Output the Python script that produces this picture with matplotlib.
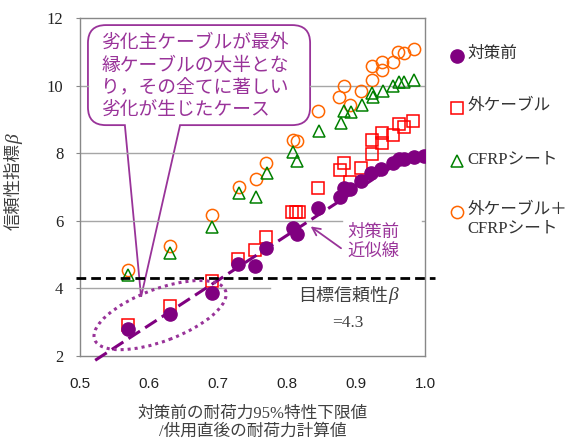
import numpy as np
import matplotlib.pyplot as plt
from matplotlib.patches import Ellipse, PathPatch
from matplotlib.path import Path
from matplotlib.lines import Line2D

plt.rcParams['font.family'] = ['Liberation Serif', 'Noto Sans CJK JP']

# 対策前 (before strengthening)
x_before = [0.569, 0.630, 0.692, 0.729, 0.754, 0.769, 0.808, 0.815, 0.845, 0.877,
            0.882, 0.892, 0.907, 0.922, 0.936, 0.953, 0.963, 0.970, 0.984, 0.999]
b_before = [2.79, 3.24, 3.85, 4.71, 4.66, 5.19, 5.78, 5.61, 6.37, 6.69,
            6.96, 6.93, 7.18, 7.42, 7.52, 7.70, 7.82, 7.82, 7.88, 7.92]

# 外ケーブル
x_cable = [0.569, 0.630, 0.692, 0.729, 0.754, 0.769, 0.807, 0.813, 0.818, 0.845, 0.877,
           0.883, 0.891, 0.907, 0.923, 0.923, 0.937, 0.937, 0.953, 0.963, 0.970, 0.983]
b_cable = [2.92, 3.49, 4.23, 4.86, 5.14, 5.51, 6.27, 6.27, 6.27, 6.96, 7.50,
           7.72, 7.16, 7.57, 7.98, 8.39, 8.29, 8.59, 8.54, 8.86, 8.78, 8.95]

# CFRPシート
x_cfrp = [0.570, 0.631, 0.692, 0.730, 0.755, 0.771, 0.808, 0.815, 0.846, 0.878,
          0.883, 0.893, 0.908, 0.923, 0.924, 0.939, 0.954, 0.962, 0.970, 0.984]
b_cfrp = [4.40, 5.04, 5.81, 6.81, 6.71, 7.40, 8.04, 7.78, 8.66, 8.90,
          9.25, 9.23, 9.44, 9.79, 9.67, 9.84, 9.99, 10.12, 10.12, 10.17]

# 外ケーブル＋CFRPシート
x_both = [0.570, 0.631, 0.692, 0.730, 0.755, 0.770, 0.808, 0.814, 0.845, 0.876,
          0.883, 0.892, 0.907, 0.923, 0.923, 0.937, 0.937, 0.953, 0.961, 0.969, 0.984]
b_both = [4.54, 5.25, 6.17, 7.01, 7.23, 7.70, 8.39, 8.36, 9.25, 9.65,
          9.99, 9.44, 9.84, 10.18, 10.58, 10.46, 10.71, 10.71, 10.98, 10.95, 11.07]

# approximate line for 対策前, and target reliability
fit_slope, fit_intercept = 13.3, -5.07
fit_range = [0.522, 0.960]
beta_target = 4.3

purple = '#800080'
note = '#993399'

fig = plt.figure(figsize=(5.74, 4.43), dpi=100)
ax = fig.add_axes([0.1394, 0.1964, 0.601, 0.763])
ax.set_xlim(0.5, 1.0)
ax.set_ylim(2, 12)

# grid segments (gaps where the notes sit)
grid_kw = dict(color='#a6a6a6', lw=1, zorder=1.6)
ax.axhline(4, 0, 0.551, **grid_kw)
ax.axhline(6, 0, 0.759, **grid_kw)
ax.axhline(6, 0.991, 1, **grid_kw)
ax.axhline(8, 0, 1, **grid_kw)
ax.axhline(10, 0, 0.023, **grid_kw)
ax.axhline(10, 0.667, 1, **grid_kw)

ax.plot(x_both, b_both, 'o', ms=8.8, mfc='none', mec='#ff6600', mew=1.1, zorder=3)
ax.plot(x_cfrp, b_cfrp, '^', ms=9, mfc='none', mec='#008000', mew=1.1, zorder=3)
ax.plot(x_cable, b_cable, 's', ms=8.2, mfc='none', mec='#ff0000', mew=1.1, zorder=3)
ax.plot(x_before, b_before, 'o', ms=9.5, color=purple, zorder=4)

fx = np.array(fit_range)
ax.plot(fx, fit_intercept + fit_slope * fx, color=purple, lw=2.2,
        dashes=(4.5, 2), clip_on=False, zorder=5)

ax.axhline(beta_target, -0.012, 1.029, color='black', lw=2, dashes=(3.5, 1.8),
           clip_on=False, zorder=5)

# callout box with pointer
bx0, bx1, by0, by1 = 0.023, 0.667, 0.683, 0.979
rx, ry = 0.052, 0.053
pl, pr = 0.130, 0.290
tip = (0.177, 0.175)
verts = [(bx0 + rx, by1), (bx1 - rx, by1), (bx1, by1), (bx1, by1 - ry),
         (bx1, by0 + ry), (bx1, by0), (bx1 - rx, by0),
         (pr, by0), tip, (pl, by0),
         (bx0 + rx, by0), (bx0, by0), (bx0, by0 + ry),
         (bx0, by1 - ry), (bx0, by1), (bx0 + rx, by1), (0, 0)]
codes = [Path.MOVETO, Path.LINETO, Path.CURVE3, Path.CURVE3,
         Path.LINETO, Path.CURVE3, Path.CURVE3,
         Path.LINETO, Path.LINETO, Path.LINETO,
         Path.LINETO, Path.CURVE3, Path.CURVE3,
         Path.LINETO, Path.CURVE3, Path.CURVE3, Path.CLOSEPOLY]
ax.add_patch(PathPatch(Path(verts, codes), fc='white', ec=note, lw=1.3,
                       transform=ax.transAxes, zorder=1.5))
ax.text(0.061, 0.952, '劣化主ケーブルが最外\n縁ケーブルの大半とな\nり，その全てに著しい\n劣化が生じたケース',
        transform=ax.transAxes, ha='left', va='top', fontsize=13.5, color=note,
        linespacing=1.36, zorder=6)

ax.add_patch(Ellipse((0.232, 0.121), 0.406, 0.154, angle=21, transform=ax.transAxes,
                     fill=False, ec=note, lw=2.2, ls=(0, (1, 1.3)), clip_on=False, zorder=6))

ax.text(0.887, 5.36, '対策前\n近似線', ha='left', va='center', fontsize=12.5,
        color=note, linespacing=1.2, zorder=6)
ax.annotate('', xy=(0.831, 5.88), xytext=(0.8816, 5.14),
            arrowprops=dict(arrowstyle='->', color=note, lw=1.3, mutation_scale=14))

t = ax.text(0.816, 3.75, '目標信頼性', ha='left', va='center', fontsize=13, color='#404040')
ax.annotate('β', xy=(1, 0.1), xycoords=t, ha='left', va='bottom', fontsize=14,
            style='italic', family='Liberation Serif', color='#404040')
ax.text(0.888, 2.98, '=4.3', ha='center', va='center', fontsize=12.5,
        family='Liberation Serif', color='#404040')

for s in ax.spines.values():
    s.set_color('#888888')
    s.set_linewidth(1)

ax.set_xticks([0.5, 0.6, 0.7, 0.8, 0.9, 1.0])
ax.set_xticklabels(['0.5', '0.6', '0.7', '0.8', '0.9', '1.0'], family='Liberation Sans', fontsize=11)
ax.set_yticks([2, 4, 6, 8, 10, 12])
ax.set_yticklabels(['2', '4', '6', '8', '10', '12'], fontsize=12)
ax.tick_params(axis='x', length=0, pad=15, colors='#222222')
ax.tick_params(axis='y', length=3, direction='out', pad=9, colors='#222222')
ax.tick_params(axis='y', color='#888888')

ax.set_xlabel('対策前の耐荷力95%特性下限値\n/供用直後の耐荷力計算値', fontsize=12,
              color='#404040', linespacing=1.15, labelpad=11)
ax.set_ylabel('信頼性指標', fontsize=12.5, color='#404040')
ax.yaxis.set_label_coords(-0.165, 0.50)
ax.annotate('β', xy=(0.5, 1), xycoords=ax.yaxis.label, ha='center', va='bottom',
            rotation=90, fontsize=14, style='italic', family='Liberation Serif', color='#404040')

# legend
legend_rows = [
    ('o', dict(color=purple, ms=9.5), '対策前'),
    ('s', dict(mfc='none', mec='#ff0000', ms=8.2, mew=1.1), '外ケーブル'),
    ('^', dict(mfc='none', mec='#008000', ms=9, mew=1.1), 'CFRPシート'),
    ('o', dict(mfc='none', mec='#ff6600', ms=8.8, mew=1.1), '外ケーブル＋\nCFRPシート'),
]
row_y = [0.874, 0.756, 0.637, 0.521]
for (m, kw, lab), yy in zip(legend_rows, row_y):
    fig.add_artist(Line2D([0.796], [yy], marker=m, ls='none', transform=fig.transFigure, **kw))
    fig.text(0.815, yy + 0.022, lab, ha='left', va='top', fontsize=12,
             color='#333333', linespacing=1.2)

fig.savefig('out.png', dpi=100)
